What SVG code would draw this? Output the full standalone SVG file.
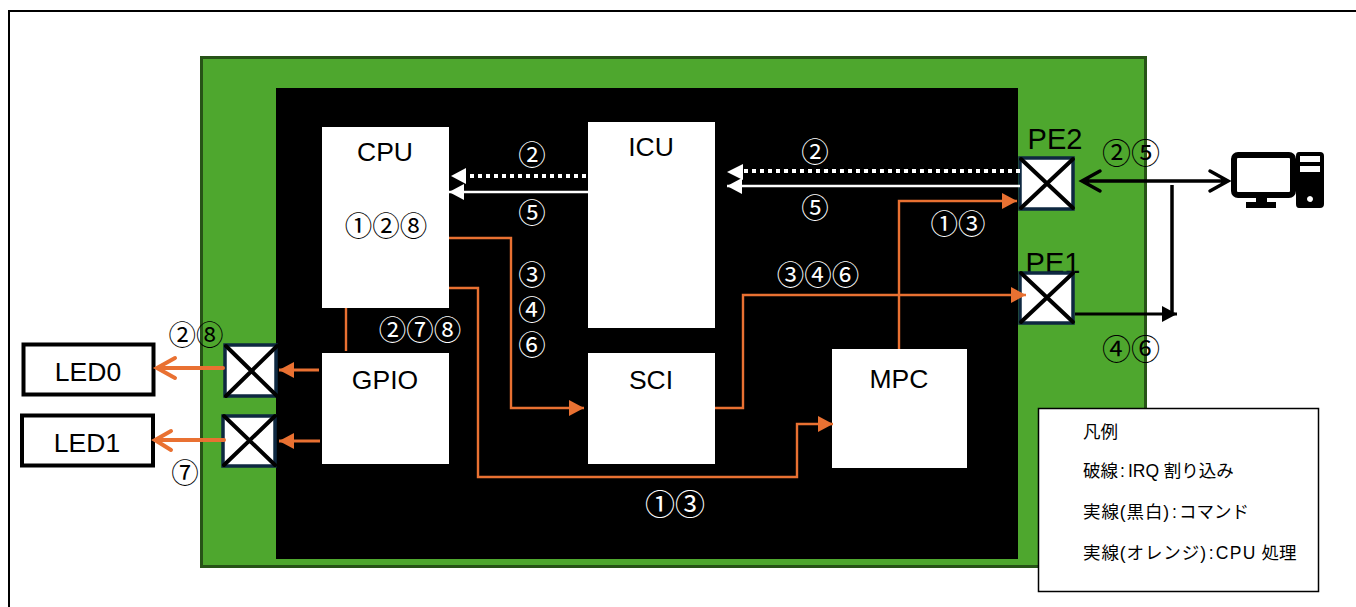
<svg xmlns="http://www.w3.org/2000/svg" width="1356" height="607" viewBox="0 0 1356 607">
<style>
text{font-family:"Liberation Sans","Noto Sans CJK JP",sans-serif;fill:#000}
.l{font-size:26.500px;text-anchor:middle}
.c{font-family:"Noto Sans CJK JP",sans-serif;font-size:27.500px;text-anchor:middle}
.p{font-size:29px;text-anchor:middle}
.w{fill:#fff}
.n{fill:#fff}
.o{fill:none;stroke:#e97132;stroke-width:2.400}
.lg{font-size:17.500px}
.x{fill:#fff;stroke:#0e2841;stroke-width:3.500}
.xl{stroke:#000;stroke-width:4;stroke-linecap:round}
</style>
<defs>
<marker id="ot" markerUnits="userSpaceOnUse" markerWidth="18" markerHeight="16" refX="15" refY="8" orient="auto"><path d="M0 0L15 8L0 16Z" fill="#e97132"/></marker>
<marker id="wt" markerUnits="userSpaceOnUse" markerWidth="18" markerHeight="16" refX="15" refY="8" orient="auto"><path d="M0 0L15 8L0 16Z" fill="#fff"/></marker>
<marker id="bt" markerUnits="userSpaceOnUse" markerWidth="18" markerHeight="18" refX="15" refY="8" orient="auto"><path d="M0 0L15 8L0 16Z" fill="#000"/></marker>
</defs>
<rect x="9" y="11" width="1360" height="620" fill="#fff" stroke="#000" stroke-width="2"/>
<rect id="board" x="201.500" y="57.500" width="944" height="509" fill="#4ea72e" stroke="#275317" stroke-width="3"/>
<rect id="mcu" x="276" y="88" width="742" height="471" fill="#000"/>
<g id="cpu"><rect class="n" x="322" y="127" width="127" height="181"/><text class="l" x="385" y="161">CPU</text><text class="c" x="386" y="236">①②⑧</text></g>
<g id="icu"><rect class="n" x="588" y="122" width="127" height="206"/><text class="l" x="651" y="156">ICU</text></g>
<g id="gpio"><rect class="n" x="322" y="353" width="127" height="111"/><text class="l" x="385" y="389">GPIO</text></g>
<g id="sci"><rect class="n" x="588" y="353" width="127" height="111"/><text class="l" x="651" y="389">SCI</text></g>
<g id="mpc"><rect class="n" x="832" y="349" width="135" height="119"/><text class="l" x="899" y="388">MPC</text></g>
<g id="led0"><rect x="23.500" y="344.500" width="130" height="50" fill="#fff" stroke="#000" stroke-width="4"/><text class="l" x="88" y="381">LED0</text></g>
<g id="led1"><rect x="22" y="415.500" width="131" height="50" fill="#fff" stroke="#000" stroke-width="4"/><text class="l" x="87" y="452">LED1</text></g>
<g id="port-led0"><rect class="x" x="225" y="345" width="51" height="51"/><path class="xl" d="M226 346L277 396M277 346L226 396"/></g>
<g id="port-led1"><rect class="x" x="223" y="416" width="52" height="50"/><path class="xl" d="M224 416L275 465M275 416L224 465"/></g>
<g id="pe2"><text class="p" x="1055" y="149">PE2</text><rect class="x" x="1020" y="158" width="53" height="51"/><path class="xl" d="M1021 159L1073 208M1073 159L1021 208"/></g>
<g id="pe1"><text class="p" x="1053" y="273">PE1</text><rect class="x" x="1020" y="273" width="53" height="50"/><path class="xl" d="M1021 273L1073 322M1073 273L1021 322"/></g>
<g id="pc" fill="#000">
<rect x="1234" y="155" width="59" height="40" rx="4" fill="#fff" stroke="#000" stroke-width="6"/>
<rect x="1256" y="196" width="11" height="9"/><rect x="1246" y="202" width="30" height="6"/>
<path fill-rule="evenodd" d="M1299 152H1320Q1324 152 1324 156V204Q1324 208 1320 208H1299Q1296 208 1296 204V156Q1296 152 1299 152ZM1300 156V162H1320V156ZM1300 166V172H1320V166ZM1310 196a3 3 0 1 0 .01 0Z"/>
</g>
<g id="connectors">
<path class="o" d="M449 238H511V408H584" marker-end="url(#ot)"/>
<path class="o" d="M449 288H478V477H797V424H833" marker-end="url(#ot)"/>
<path class="o" d="M715 408H743V295H1026" marker-end="url(#ot)"/>
<path class="o" d="M899 349V201H1017" marker-end="url(#ot)"/>
<path d="M346 308V351" fill="none" stroke="#e97132" stroke-width="2.400"/>
<path d="M319 370H279" fill="none" stroke="#e97132" stroke-width="3" marker-end="url(#ot)"/>
<path d="M320 441H279" fill="none" stroke="#e97132" stroke-width="3" marker-end="url(#ot)"/>
<path d="M223 368H157M175 358L157 368L175 378" fill="none" stroke="#e97132" stroke-width="4" stroke-linecap="round"/>
<path d="M224 440H155M171 431L155 440L171 450" fill="none" stroke="#e97132" stroke-width="4" stroke-linecap="round"/>
<path d="M586 176H466" fill="none" stroke="#fff" stroke-width="4" stroke-dasharray="4 4"/>
<path d="M451 176L466 168V184Z" fill="#fff"/>
<path d="M588 192H449" fill="none" stroke="#fff" stroke-width="2.400" marker-end="url(#wt)"/>
<path d="M1020 171H743" fill="none" stroke="#fff" stroke-width="4" stroke-dasharray="4 4"/>
<path d="M727 172L743 164V180Z" fill="#fff"/>
<path d="M1020 186H727" fill="none" stroke="#fff" stroke-width="2.400" marker-end="url(#wt)"/>
<path d="M1082 181H1228M1100 171L1082 181L1100 191M1210 171L1228 181L1210 191" fill="none" stroke="#000" stroke-width="3.500" stroke-linecap="round"/>
<path d="M1172 185V312" fill="none" stroke="#000" stroke-width="3.500"/>
<path d="M1075 314H1177" fill="none" stroke="#000" stroke-width="3" marker-end="url(#bt)"/>
</g>
<g id="labels">
<text class="c w" x="532" y="165">②</text>
<text class="c w" x="532" y="223">⑤</text>
<text class="c w" x="815" y="162">②</text>
<text class="c w" x="815" y="218">⑤</text>
<text class="c w" x="532" y="285">③</text>
<text class="c w" x="532" y="320">④</text>
<text class="c w" x="532" y="355">⑥</text>
<text class="c w" x="420" y="340">②⑦⑧</text>
<text class="c w" x="818" y="285">③④⑥</text>
<text class="c w" x="958" y="234">①③</text>
<text class="c w" x="675" y="515" style="font-size:30px">①③</text>
<text class="c" x="1131" y="164" style="font-size:29px">②⑤</text>
<text class="c" x="1131" y="360" style="font-size:29px">④⑥</text>
<text class="c" x="196" y="345">②⑧</text>
<text class="c" x="185" y="483">⑦</text>
</g>
<g id="legend">
<rect x="1038.500" y="408.500" width="280" height="183" fill="#fff" stroke="#000" stroke-width="1.500"/>
<text class="lg" x="1083" y="438">凡例</text>
<text class="lg" x="1083" y="477">破線<tspan dx="2">:</tspan><tspan dx="3">IRQ</tspan> 割り込み</text>
<text class="lg" x="1083" y="518"><tspan letter-spacing="0.900">実線(黒白)</tspan><tspan dx="2">:</tspan><tspan dx="2">コマンド</tspan></text>
<text class="lg" x="1083" y="559"><tspan letter-spacing="0.900">実線(オレンジ)</tspan><tspan dx="2">:</tspan><tspan dx="2" letter-spacing="1.300">CPU</tspan> 処理</text>
</g>
</svg>
